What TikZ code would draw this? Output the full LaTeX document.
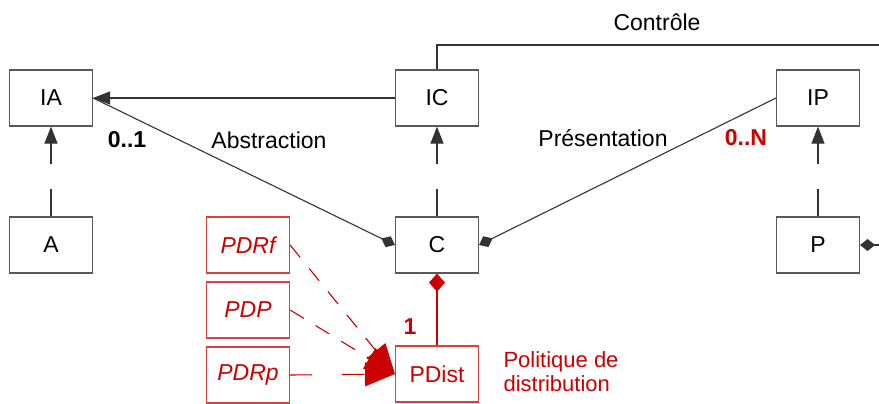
\documentclass[tikz,border=0pt]{standalone}
\usepackage{fontspec}
\setmainfont{Liberation Sans}
\usetikzlibrary{arrows.meta}
\definecolor{diagred}{RGB}{204,0,0}
\tikzset{
  box/.style={draw=black!65, line width=1.2pt, minimum width=83pt, minimum height=56pt, inner sep=0pt},
  redbox/.style={box, draw=diagred!75, text=diagred},
  link/.style={black!80, line width=1.1pt},
  gen/.style={link, -{Triangle[length=17pt,width=13pt]}},
  compo/.style={link, {Diamond[length=15pt,width=12pt]}-},
}
\begin{document}
\begin{tikzpicture}[x=1pt, y=-1pt, font=\fontsize{23pt}{27pt}\selectfont]
  \useasboundingbox (0,0) rectangle (879,404);

  % Boites
  \node[box] (IA) at (51,98) {IA};
  \node[box] (A) at (51,245) {A};
  \node[box] (IC) at (437,98) {IC};
  \node[box] (C) at (437,245) {C};
  \node[box] (IP) at (818,98) {IP};
  \node[box] (P) at (818,245) {P};
  \node[redbox] (PDist) at (437,374) {PDist};
  \node[redbox, font=\fontsize{23pt}{27pt}\selectfont\itshape] (PDRf) at (248,245) {PDRf};
  \node[redbox, font=\fontsize{23pt}{27pt}\selectfont\itshape] (PDP) at (248,310) {PDP};
  \node[redbox, font=\fontsize{23pt}{27pt}\selectfont\itshape] (PDRp) at (248,375) {PDRp};
  \coordinate (ctrl) at (879,45);
  \coordinate (pout) at (879,245);

  % Textes
  \node (controle) at (657,22) {Contrôle};
  \node[font=\fontsize{23pt}{27pt}\selectfont\bfseries] (card01) at (127,140) {0..1};
  \node (abstr) at (269,140) {Abstraction};
  \node (pres) at (603,138) {Présentation};
  \node[text=diagred, font=\fontsize{23pt}{27pt}\selectfont\bfseries] (card0N) at (746,138) {0..N};
  \node[text=diagred, font=\fontsize{23pt}{27pt}\selectfont\bfseries] (card1) at (410,327) {1};
  \node[text=diagred, anchor=west, align=left, font=\fontsize{22pt}{24pt}\selectfont] (politique) at (500,372) {Politique de\\distribution};

  % Liens
  \draw[gen] (IC) -- (IA);
  \draw[gen, dash pattern=on 27pt off 25pt] (A) -- (IA);
  \draw[gen, dash pattern=on 27pt off 25pt] (C) -- (IC);
  \draw[gen, dash pattern=on 27pt off 25pt] (P) -- (IP);
  \draw[compo] (C.west) -- (IA.east);
  \draw[compo] (C.east) -- (IP.west);
  \draw[compo] (P.east) -- (pout);
  \draw[link] (IC.north) |- (ctrl);
  \draw[diagred, line width=1.1pt, {Diamond[length=18pt,width=16pt]}-] (C.south) -- (PDist.north);
  \draw[diagred, line width=1.1pt, dash pattern=on 16pt off 14pt, -{Triangle[length=30pt,width=24pt]}] (PDRf.east) -- (PDist.west);
  \draw[diagred, line width=1.1pt, dash pattern=on 16pt off 14pt, -{Triangle[length=30pt,width=24pt]}] (PDP.east) -- (PDist.west);
  \draw[diagred, line width=1.1pt, dash pattern=on 22pt off 30pt, -{Triangle[length=30pt,width=24pt]}] (PDRp.east) -- (PDist.west);
\end{tikzpicture}
\end{document}
